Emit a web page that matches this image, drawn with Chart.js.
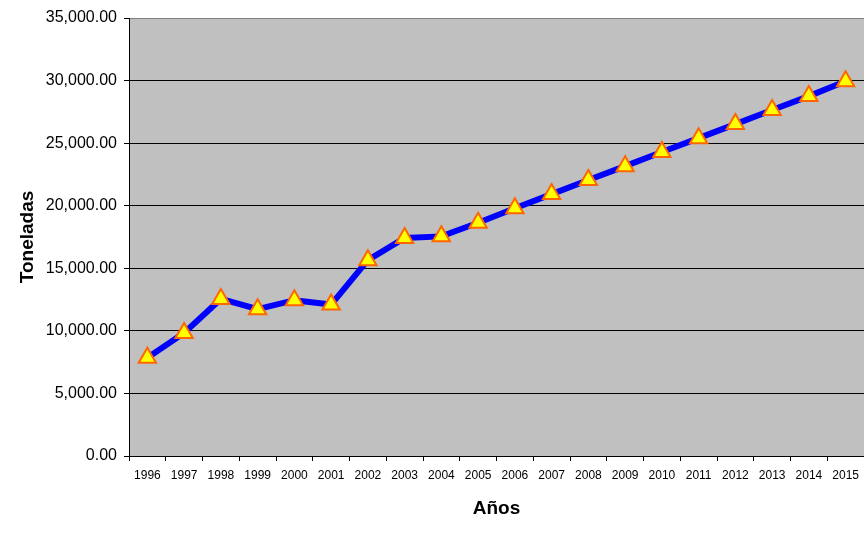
<!DOCTYPE html>
<html>
<head>
<meta charset="utf-8">
<script src="https://cdn.jsdelivr.net/npm/chart.js@4/dist/chart.umd.min.js"></script>
<style>
  html, body { margin: 0; padding: 0; background: #fff; }
  #wrap { width: 864px; height: 541px; }
</style>
</head>
<body>
<div id="wrap"><canvas id="chart" width="864" height="541"></canvas></div>
<script>
// Data
const years = ['1996', '1997', '1998', '1999', '2000', '2001', '2002', '2003', '2004', '2005',
               '2006', '2007', '2008', '2009', '2010', '2011', '2012', '2013', '2014', '2015'];
const toneladas = [7850, 9830, 12550, 11730, 12450, 12100, 15650, 17420, 17550, 18640,
                   19800, 20930, 22050, 23160, 24290, 25400, 26520, 27650, 28760, 29950];
const yTicks = [0, 5000, 10000, 15000, 20000, 25000, 30000, 35000];

// Gray plot area, like the old spreadsheet charts
const plotBackground = {
    id: 'plotBackground',
    beforeDraw(chart) {
        const a = chart.chartArea;
        const ctx = chart.ctx;
        ctx.save();
        ctx.fillStyle = '#c0c0c0';
        ctx.fillRect(a.left, a.top, a.right - a.left, a.bottom - a.top);
        ctx.restore();
    }
};

const fontFamily = "'Liberation Sans', Arial, sans-serif";

const ctx = document.getElementById('chart').getContext('2d');
const toneladasChart = new Chart(ctx, {
    type: 'line',
    data: {
        labels: years,
        datasets: [{
            label: 'Toneladas',
            data: toneladas,
            borderColor: '#0000ff',
            borderWidth: 6,
            tension: 0,
            pointStyle: 'triangle',
            pointRadius: 10,
            pointHoverRadius: 10,
            pointBackgroundColor: '#ffff00',
            pointBorderColor: '#ff6600',
            pointBorderWidth: 2
        }]
    },
    options: {
        responsive: false,
        animation: false,
        events: [],
        layout: {
            // no extra room for the markers, plot goes to the right edge
            autoPadding: false,
            padding: { left: 0, top: 18, right: 0, bottom: 0 }
        },
        plugins: {
            legend: { display: false },
            tooltip: { enabled: false }
        },
        scales: {
            x: {
                type: 'category',
                offset: true,
                grid: {
                    offset: true,
                    drawOnChartArea: false,
                    color: '#000',
                    tickLength: 5
                },
                border: { color: '#000', width: 1 },
                ticks: {
                    color: '#000',
                    padding: 7,
                    maxRotation: 0,
                    autoSkip: false,
                    font: { family: fontFamily, size: 12 }
                },
                title: {
                    display: true,
                    text: 'Años',
                    color: '#000',
                    font: { family: fontFamily, size: 19, weight: 'bold' },
                    padding: { top: 0, bottom: 21 }
                },
                afterFit(scale) {
                    scale.height = 85;
                    scale.paddingLeft = 0;
                    scale.paddingRight = 0;
                }
            },
            y: {
                min: 0,
                max: 35000,
                afterBuildTicks(scale) {
                    scale.ticks = yTicks.map(v => ({ value: v }));
                },
                grid: {
                    color: (c) => c.tick && c.tick.value === 35000 ? '#808080' : '#000',
                    lineWidth: 1,
                    tickLength: 5,
                    tickColor: '#000'
                },
                border: { color: '#000', width: 1 },
                ticks: {
                    color: '#000',
                    padding: 7,
                    font: { family: fontFamily, size: 16 },
                    callback: (v) => v.toLocaleString('en-US', { minimumFractionDigits: 2, maximumFractionDigits: 2 })
                },
                title: {
                    display: true,
                    text: 'Toneladas',
                    color: '#000',
                    font: { family: fontFamily, size: 19, weight: 'bold' },
                    padding: { top: 16, bottom: 0 }
                },
                afterFit(scale) { scale.width = 129; }
            }
        }
    },
    plugins: [plotBackground]
});
</script>
</body>
</html>
